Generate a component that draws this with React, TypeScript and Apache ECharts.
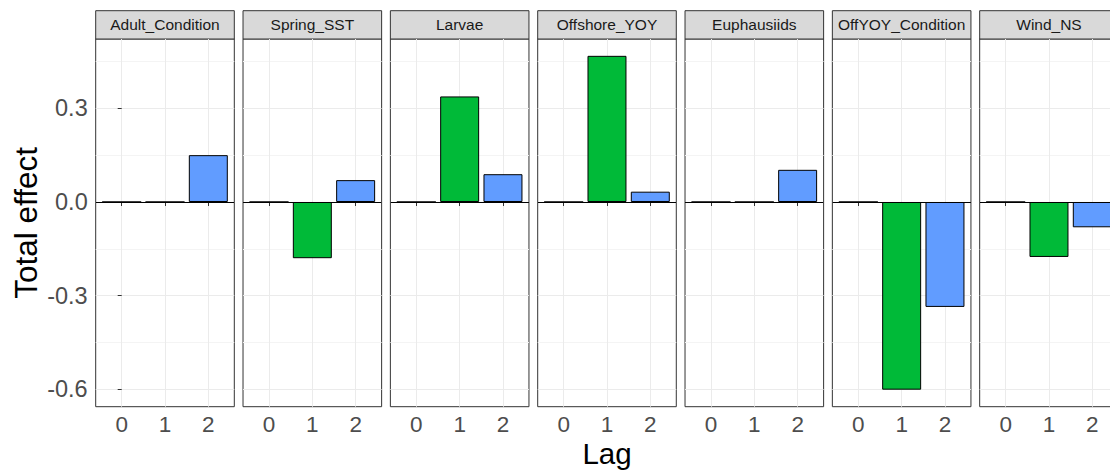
import React, { useEffect, useRef } from 'react';
import * as echarts from 'echarts';

// ---- data ----
const facets = ['Adult_Condition', 'Spring_SST', 'Larvae', 'Offshore_YOY', 'Euphausiids', 'OffYOY_Condition', 'Wind_NS'];
const lags = [0, 1, 2];
const lag0Effect = [0, 0, 0, 0, 0, 0, 0];
const lag1Effect = [0, -0.18, 0.338, 0.468, 0, -0.601, -0.176];
const lag2Effect = [0.15, 0.07, 0.089, 0.033, 0.103, -0.336, -0.081];
const lagColors = ['#F8766D', '#00BA38', '#619CFF'];
const yTickValues = [-0.6, -0.3, 0, 0.3];
const yTitle = 'Total effect';
const xTitle = 'Lag';

// ---- layout ----
const W = 1110;
const H = 470;
const INNER_W = 1140;
const PANEL_LEFT = 95.7;
const STEP = 147.33;
const PANEL_W = 138.6;
const PANEL_TOP = 39;
const PANEL_H = 367.7;
const STRIP_TOP = 10.7;
const Y_MIN = -0.6555;
const Y_MAX = 0.5219;
const X_MIN = -0.6;
const X_MAX = 2.6;
const FONT = '"Liberation Sans", Arial, Helvetica, sans-serif';

export default function App() {
  const ref = useRef<HTMLDivElement>(null);

  useEffect(() => {
    if (!ref.current) return;
    const chart = echarts.init(ref.current, null, { renderer: 'svg' });
    const byLag = [lag0Effect, lag1Effect, lag2Effect];
    const barWidth = (0.9 * PANEL_W) / (X_MAX - X_MIN);

    const grids: any[] = [];
    const xAxes: any[] = [];
    const yAxes: any[] = [];
    const series: any[] = [];
    const graphics: any[] = [];

    facets.forEach((name, i) => {
      const left = PANEL_LEFT + i * STEP;
      grids.push({
        left,
        top: PANEL_TOP,
        width: PANEL_W,
        height: PANEL_H,
        show: true,
        borderColor: '#333333',
        borderWidth: 1,
        backgroundColor: 'transparent',
        containLabel: false,
      });
      xAxes.push({
        type: 'value',
        gridIndex: i,
        min: X_MIN,
        max: X_MAX,
        minInterval: 1,
        maxInterval: 1,
        axisLine: { show: false },
        axisTick: {
          show: true,
          customValues: lags,
          length: 4,
          lineStyle: { color: '#333333', width: 1 },
        },
        axisLabel: {
          show: true,
          customValues: lags,
          margin: 6,
          color: '#4D4D4D',
          fontSize: 22.5,
          fontFamily: FONT,
          formatter: (v: number) => (Number.isInteger(v) ? String(v) : ''),
        },
        splitLine: { show: true, lineStyle: { color: '#EBEBEB', width: 1 } },
      });
      yAxes.push({
        type: 'value',
        gridIndex: i,
        min: Y_MIN,
        max: Y_MAX,
        minInterval: 0.3,
        maxInterval: 0.3,
        axisLine: { show: false },
        axisTick: {
          show: i === 0,
          customValues: yTickValues,
          length: 4,
          lineStyle: { color: '#333333', width: 1 },
        },
        axisLabel: {
          show: i === 0,
          customValues: yTickValues,
          margin: 8,
          color: '#4D4D4D',
          fontSize: 23.5,
          fontFamily: FONT,
          formatter: (v: number) => v.toFixed(1),
        },
        splitLine: { show: true, lineStyle: { color: '#EBEBEB', width: 1 } },
        minorTick: { show: false, splitNumber: 2 },
        minorSplitLine: { show: true, lineStyle: { color: '#F4F4F4', width: 1 } },
      });
      series.push({
        type: 'bar',
        xAxisIndex: i,
        yAxisIndex: i,
        barWidth,
        data: lags.map((lag, k) => ({
          value: [lag, byLag[k][i]],
          itemStyle: { color: lagColors[k], borderColor: '#000000', borderWidth: 1 },
        })),
        markLine: {
          silent: true,
          symbol: 'none',
          label: { show: false },
          lineStyle: { color: '#000000', width: 1.2, type: 'solid' },
          data: [{ yAxis: 0 }],
        },
      });
      graphics.push({
        type: 'rect',
        shape: { x: left, y: STRIP_TOP, width: PANEL_W, height: PANEL_TOP - STRIP_TOP },
        style: { fill: '#D9D9D9', stroke: '#333333', lineWidth: 1 },
      });
      graphics.push({
        type: 'text',
        x: left + PANEL_W / 2,
        y: (STRIP_TOP + PANEL_TOP) / 2,
        style: {
          text: name,
          fill: '#1A1A1A',
          font: `15.5px ${FONT}`,
          align: 'center',
          verticalAlign: 'middle',
        },
      });
    });

    graphics.push({
      type: 'text',
      x: 26,
      y: PANEL_TOP + PANEL_H / 2,
      rotation: Math.PI / 2,
      style: {
        text: yTitle,
        fill: '#000000',
        font: `31.5px ${FONT}`,
        align: 'center',
        verticalAlign: 'middle',
      },
    });
    graphics.push({
      type: 'text',
      x: 607,
      y: 453,
      style: {
        text: xTitle,
        fill: '#000000',
        font: `29.5px ${FONT}`,
        align: 'center',
        verticalAlign: 'middle',
      },
    });

    chart.setOption({
      animation: false,
      backgroundColor: '#FFFFFF',
      grid: grids,
      xAxis: xAxes,
      yAxis: yAxes,
      series,
      graphic: graphics,
    });

    return () => chart.dispose();
  }, []);

  return (
    <div
      style={{
        position: 'absolute',
        left: 0,
        top: 0,
        width: W,
        height: H,
        overflow: 'hidden',
        background: '#FFFFFF',
      }}
    >
      <div ref={ref} style={{ width: INNER_W, height: H }} />
    </div>
  );
}
